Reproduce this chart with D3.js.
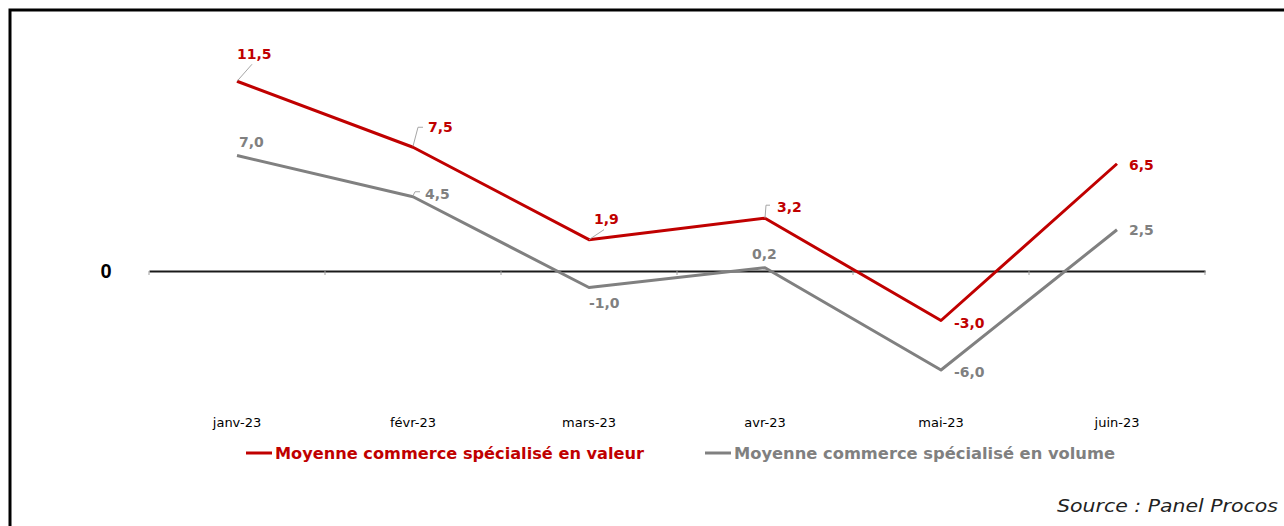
<!DOCTYPE html>
<html>
<head>
<meta charset="utf-8">
<script src="https://cdn.jsdelivr.net/npm/d3@7"></script>
<style>
  html, body { margin: 0; padding: 0; background: #fff; }
  svg { display: block; }
</style>
</head>
<body>
<svg id="chart" width="1284" height="526"></svg>
<script>
// Monthly change (%) — specialised retail average
const months = ["janv-23", "févr-23", "mars-23", "avr-23", "mai-23", "juin-23"];
const valeur = [11.5, 7.5, 1.9, 3.2, -3.0, 6.5];
const volume = [7.0, 4.5, -1.0, 0.2, -6.0, 2.5];
const seriesNames = ["Moyenne commerce spécialisé en valeur", "Moyenne commerce spécialisé en volume"];
const sourceText = "Source : Panel Procos";

const RED = "#C00000";
const GREY = "#808080";
// French decimal comma, plain hyphen for negatives
const fmt = v => (v < 0 ? "-" : "") + d3.format(".1f")(Math.abs(v)).replace(".", ",");

const svg = d3.select("#chart");

// Frame
svg.append("rect")
  .attr("x", 10).attr("y", 10)
  .attr("width", 1400).attr("height", 700)
  .attr("fill", "none").attr("stroke", "#000").attr("stroke-width", 3);

const x = d3.scaleBand().domain(months).range([149, 1205]).padding(0);
const y = d3.scaleLinear().domain([-8, 14]).range([271 + 8 * 16.5, 271 - 14 * 16.5]);
const cx = m => x(m) + x.bandwidth() / 2;

// Zero axis with category ticks
const axis = d3.axisBottom(x).tickSize(0).tickFormat("");
const gAxis = svg.append("g").attr("transform", `translate(0,${y(0)})`).call(axis);
gAxis.select(".domain").attr("stroke", "#1a1a1a").attr("stroke-width", 2);
const bounds = months.map(m => x(m)).concat([x.range()[1]]);
svg.append("g").selectAll("line").data(bounds).join("line")
  .attr("x1", d => d).attr("x2", d => d)
  .attr("y1", y(0)).attr("y2", y(0) + 4)
  .attr("stroke", "#a0a0a0").attr("stroke-width", 1);

svg.append("text")
  .attr("x", 106).attr("y", y(0))
  .attr("text-anchor", "middle").attr("dominant-baseline", "central")
  .attr("font-family", "Liberation Sans, Arial, sans-serif")
  .attr("font-weight", "bold").attr("font-size", 20)
  .text("0");

// Category labels
svg.append("g").selectAll("text").data(months).join("text")
  .attr("x", d => cx(d)).attr("y", 422)
  .attr("text-anchor", "middle").attr("dominant-baseline", "central")
  .attr("font-family", "DejaVu Sans, sans-serif").attr("font-size", 13)
  .attr("fill", "#000")
  .text(d => d);

// Lines
const line = d3.line().x(d => cx(d.m)).y(d => y(d.v));
const series = [
  { vals: valeur, color: RED },
  { vals: volume, color: GREY }
];
// volume drawn first so valeur sits on top
[series[1], series[0]].forEach(s => {
  svg.append("path")
    .datum(months.map((m, i) => ({ m, v: s.vals[i] })))
    .attr("fill", "none").attr("stroke", s.color)
    .attr("stroke-width", 3).attr("stroke-linejoin", "round")
    .attr("d", line);
});

// Data label placement (offsets from the point) and leader lines
const labelOffsets = [
  [[0, -27], [15, -20], [5, -21], [12, -11], [13, 2], [12, 1]],
  [[2, -14], [12, -3], [0, 15], [-13, -14], [13, 2], [12, 0]]
];
const leaders = [
  { s: 0, i: 0, pts: [[0, 0], [15, -17]] },
  { s: 0, i: 1, pts: [[0, -1], [5, -20], [10, -20]] },
  { s: 0, i: 2, pts: [[0, 0], [15, -10]] },
  { s: 0, i: 3, pts: [[0, 0], [1, -13], [5, -13]] },
  { s: 1, i: 1, pts: [[0, -1], [2, -5], [7, -5]] }
];

leaders.forEach(l => {
  const s = series[l.s];
  const px = cx(months[l.i]), py = y(s.vals[l.i]);
  svg.append("polyline")
    .attr("points", l.pts.map(p => [px + p[0], py + p[1]].join(",")).join(" "))
    .attr("fill", "none").attr("stroke", "#a6a6a6").attr("stroke-width", 1);
});

series.forEach((s, si) => {
  svg.append("g").selectAll("text").data(s.vals).join("text")
    .attr("x", (d, i) => cx(months[i]) + labelOffsets[si][i][0])
    .attr("y", (d, i) => y(d) + labelOffsets[si][i][1])
    .attr("dominant-baseline", "central")
    .attr("font-family", "DejaVu Sans, sans-serif")
    .attr("font-weight", "bold").attr("font-size", 14)
    .attr("fill", s.color)
    .text(d => fmt(d));
});

// Legend
const legend = [
  { x: 246, color: RED, name: seriesNames[0], w: 369 },
  { x: 705, color: GREY, name: seriesNames[1], w: 381 }
];
legend.forEach(l => {
  svg.append("line")
    .attr("x1", l.x).attr("x2", l.x + 26)
    .attr("y1", 453).attr("y2", 453)
    .attr("stroke", l.color).attr("stroke-width", 3);
  svg.append("text")
    .attr("x", l.x + 29).attr("y", 454)
    .attr("dominant-baseline", "central")
    .attr("font-family", "DejaVu Sans, sans-serif")
    .attr("font-weight", "bold").attr("font-size", 15)
    .attr("fill", l.color)
    .attr("textLength", l.w).attr("lengthAdjust", "spacingAndGlyphs")
    .text(l.name);
});

// Source
svg.append("text")
  .attr("x", 1278).attr("y", 505)
  .attr("text-anchor", "end").attr("dominant-baseline", "central")
  .attr("font-family", "DejaVu Sans, sans-serif")
  .attr("font-style", "italic").attr("font-size", 18)
  .attr("fill", "#222")
  .attr("textLength", 221).attr("lengthAdjust", "spacingAndGlyphs")
  .text(sourceText);
</script>
</body>
</html>
